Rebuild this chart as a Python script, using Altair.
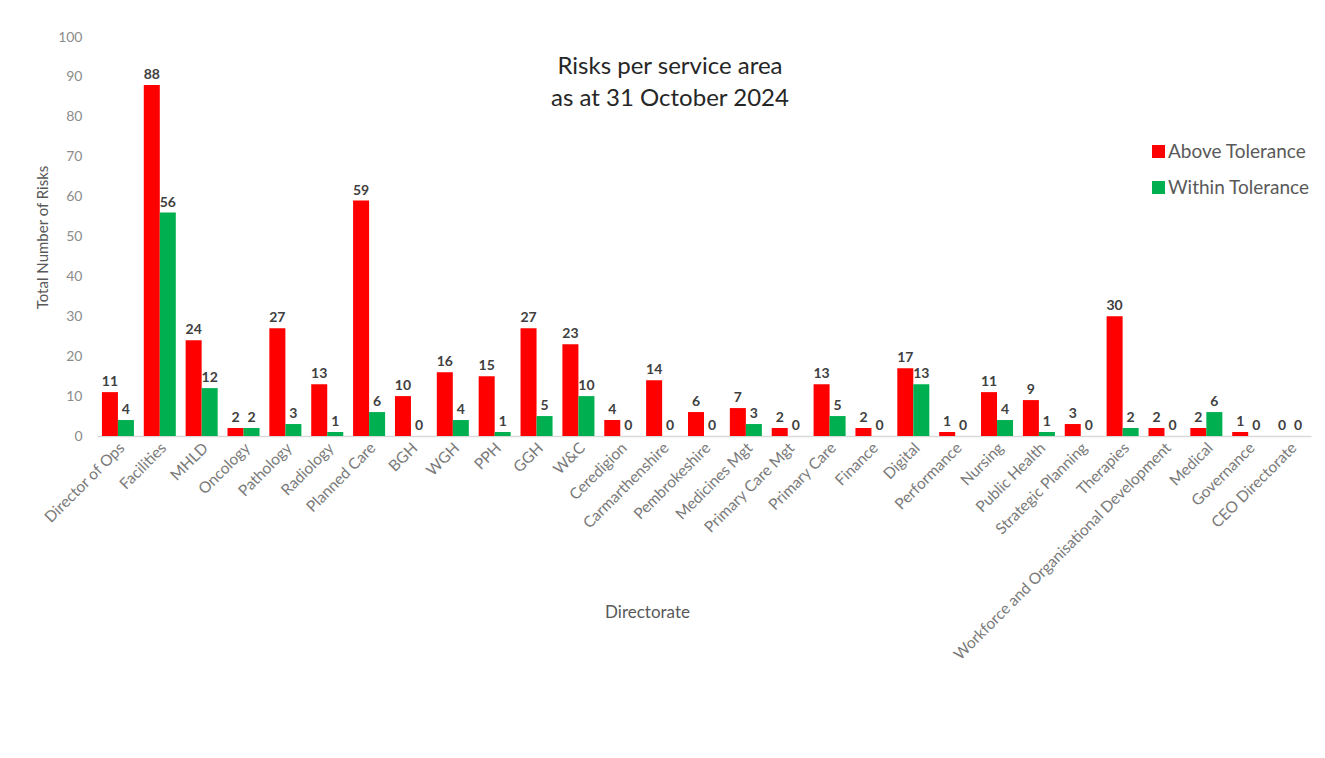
import altair as alt
import pandas as pd

categories = ["Director of Ops", "Facilities", "MHLD", "Oncology", "Pathology", "Radiology",
              "Planned Care", "BGH", "WGH", "PPH", "GGH", "W&C", "Ceredigion", "Carmarthenshire",
              "Pembrokeshire", "Medicines Mgt", "Primary Care Mgt", "Primary Care", "Finance",
              "Digital", "Performance", "Nursing", "Public Health", "Strategic Planning",
              "Therapies", "Workforce and Organisational Development", "Medical", "Governance",
              "CEO Directorate"]
above = [11, 88, 24, 2, 27, 13, 59, 10, 16, 15, 27, 23, 4, 14, 6, 7, 2, 13, 2, 17, 1, 11, 9, 3, 30, 2, 2, 1, 0]
within = [4, 56, 12, 2, 3, 1, 6, 0, 4, 1, 5, 10, 0, 0, 0, 3, 0, 5, 0, 13, 0, 4, 1, 0, 2, 0, 6, 0, 0]
series = ["Above Tolerance", "Within Tolerance"]
colors = ["#FF0000", "#00B050"]
y_ticks = [0, 10, 20, 30, 40, 50, 60, 70, 80, 90, 100]

rows = []
for c, a, w in zip(categories, above, within):
    rows.append({"Directorate": c, "Series": series[0], "Risks": a})
    rows.append({"Directorate": c, "Series": series[1], "Risks": w})
df = pd.DataFrame(rows)

FONT = "Lato"

base = alt.Chart(df).encode(
    x=alt.X("Directorate:N", sort=categories,
            scale=alt.Scale(paddingInner=0.235, paddingOuter=0.1175),
            axis=alt.Axis(title="Directorate", labelAngle=-45, labelAlign="right",
                          labelBaseline="middle", labelFontSize=15.5, labelColor="#7a7a7a",
                          labelFont=FONT, labelPadding=9, labelOffset=4, ticks=False,
                          domainColor="#d9d9d9", domainWidth=1.5, titleFont=FONT,
                          titleFontSize=17, titleFontWeight="normal", titleColor="#595959",
                          titleX=550, titleY=176, titleAlign="center", titleBaseline="middle",
                          labelOverlap=False, labelLimit=500)),
    xOffset=alt.XOffset("Series:N", sort=series,
                        scale=alt.Scale(paddingInner=0, paddingOuter=0)),
    y=alt.Y("Risks:Q", scale=alt.Scale(domain=[0, 100], nice=False),
            axis=alt.Axis(title="Total Number of Risks", values=y_ticks, grid=False,
                          domain=False, ticks=False, labelFontSize=14, labelColor="#8c8c8c",
                          labelFont=FONT, labelPadding=15, titleFont=FONT, titleFontSize=15,
                          titleFontWeight="normal", titleColor="#595959",
                          titleX=-55, titleY=200, titleAlign="center",
                          titleBaseline="middle")),
)

bars = base.mark_bar().encode(
    color=alt.Color("Series:N", sort=series,
                    scale=alt.Scale(domain=series, range=colors),
                    legend=alt.Legend(title=None, orient="none", legendX=1052, legendY=105,
                                      symbolType="square", symbolSize=169,
                                      symbolStrokeWidth=0, labelFontSize=19,
                                      labelColor="#595959", labelFont=FONT,
                                      rowPadding=16, labelOffset=0))
)

labels = base.mark_text(dy=-10, fontWeight="bold", fontSize=14, color="#404040",
                        font=FONT).encode(text="Risks:Q")

chart = (bars + labels).properties(
    width=1214, height=399,
    autosize=alt.AutoSizeParams(type="none"),
    padding={"left": 89, "top": 29, "right": 6, "bottom": 300},
    title=alt.TitleParams(text=["Risks per service area", "as at 31 October 2024"],
                          font=FONT, fontSize=24, fontWeight="normal", color="#262626",
                          anchor="middle", dx=-34, dy=109, baseline="bottom",
                          lineHeight=32),
).configure(background="white").configure_view(stroke="transparent", strokeWidth=0)

chart.save("out.html", embed_options={"renderer": "svg", "actions": False})
